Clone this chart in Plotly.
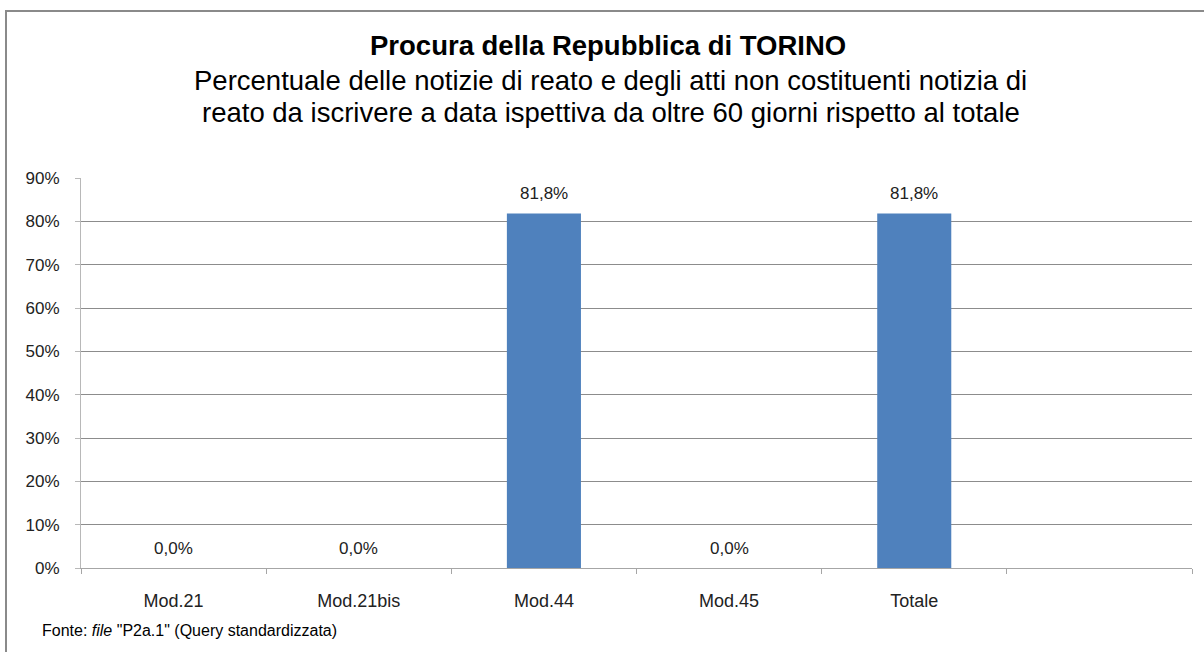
import plotly.graph_objects as go

categories = ["Mod.21", "Mod.21bis", "Mod.44", "Mod.45", "Totale", " "]
values = [0.0, 0.0, 81.8, 0.0, 81.8, None]
labels = ["0,0%", "0,0%", "81,8%", "0,0%", "81,8%", None]
y_ticks = [0, 10, 20, 30, 40, 50, 60, 70, 80, 90]
y_tick_text = ["0%", "10%", "20%", "30%", "40%", "50%", "60%", "70%", "80%", "90%"]

title_line1 = "Procura della Repubblica di TORINO"
title_line2 = "Percentuale delle notizie di reato e degli atti non costituenti notizia di"
title_line3 = "reato da iscrivere a data ispettiva da oltre 60 giorni rispetto al totale"
source_text = 'Fonte: <i>file</i> "P2a.1" (Query standardizzata)'

FONT = "Liberation Sans, Arial, sans-serif"

W, H = 1204, 652
L, R, T, B = 81, 12, 178, 84
pw = W - L - R
ph = H - T - B


def px_x(x):
    return (x - L) / pw


def px_y(y):
    return (H - B - y) / ph


fig = go.Figure()
fig.add_trace(go.Bar(
    x=categories, y=values, width=0.4,
    marker=dict(color="#4F81BD", line=dict(width=0)),
    hoverinfo="skip",
))

annotations = []
for c, v, t in zip(categories, values, labels):
    if t is None:
        continue
    annotations.append(dict(
        x=c, y=v, xref="x", yref="y", text=t, showarrow=False,
        yanchor="middle", yshift=20,
        font=dict(family=FONT, size=17, color="#222222"),
    ))

annotations += [
    dict(x=px_x(608), y=px_y(45), xref="paper", yref="paper", text="<b>" + title_line1 + "</b>",
         showarrow=False, xanchor="center", yanchor="middle",
         font=dict(family=FONT, size=27.5, color="#000000")),
    dict(x=px_x(610), y=px_y(80), xref="paper", yref="paper", text=title_line2,
         showarrow=False, xanchor="center", yanchor="middle",
         font=dict(family=FONT, size=27.5, color="#000000")),
    dict(x=px_x(611), y=px_y(113), xref="paper", yref="paper", text=title_line3,
         showarrow=False, xanchor="center", yanchor="middle",
         font=dict(family=FONT, size=27.5, color="#000000")),
    dict(x=px_x(40), y=px_y(630), xref="paper", yref="paper",
         text=source_text,
         showarrow=False, xanchor="left", yanchor="middle",
         font=dict(family=FONT, size=16, color="#000000")),
]

fig.update_layout(
    width=W, height=H,
    margin=dict(l=L, r=R, t=T, b=B, autoexpand=False),
    paper_bgcolor="white", plot_bgcolor="white",
    showlegend=False,
    annotations=annotations,
    shapes=[dict(type="rect", xref="paper", yref="paper",
                 x0=px_x(6), x1=px_x(1215), y0=px_y(665), y1=px_y(11),
                 line=dict(color="#8a8a8a", width=2), layer="below")],
    font=dict(family=FONT),
)

fig.update_xaxes(
    type="category", range=[-0.5, 5.5],
    showline=True, linecolor="#a6a6a6", linewidth=1,
    ticks="outside", tickson="boundaries", ticklen=5, tickcolor="#a6a6a6",
    showgrid=False, zeroline=False,
    tickfont=dict(family=FONT, size=18, color="#222222"),
    ticklabelstandoff=16,
)
fig.update_yaxes(
    range=[0, 90], tickvals=y_ticks, ticktext=y_tick_text,
    showline=True, linecolor="#b8b8b8", linewidth=1,
    ticks="outside", ticklen=5, tickcolor="#b8b8b8",
    showgrid=True, gridcolor="#8c8c8c", gridwidth=1, zeroline=False,
    tickfont=dict(family=FONT, size=17, color="#222222"),
    ticklabelstandoff=12,
)

fig.write_html("out.html", config={"displayModeBar": False},
               post_script="document.body.style.margin='0px';")
